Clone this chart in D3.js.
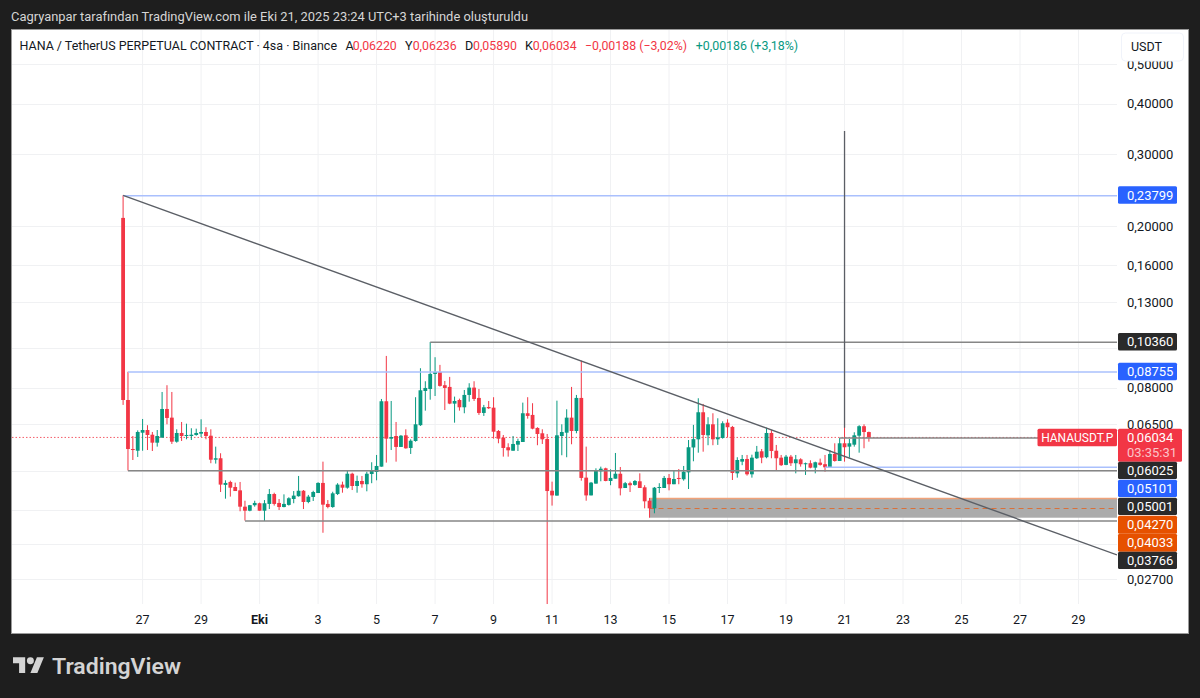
<!DOCTYPE html>
<html lang="tr">
<head>
<meta charset="utf-8">
<title>HANAUSDT.P 4sa</title>
<script src="https://cdn.jsdelivr.net/npm/d3@7/dist/d3.min.js"></script>
<style>
  html, body { margin: 0; padding: 0; background: #1e1e1e; }
  svg { display: block; }
  text { font-family: Roboto, "Noto Sans", sans-serif; }
</style>
</head>
<body>
<svg id="chart" width="1200" height="698"></svg>
<script>
// HANA / USDT perpetual, 4-hour bars
const firstBar = Date.UTC(2025, 8, 26, 8);
const barHours = 4;
const opens = [.2094,.0746,.0565,.05596,.06198,.06293,.06128,.05857,.06027,.0709,.0675,.0589,.06188,.06083,.06083,.06118,.06164,.06223,.06093,.05318,.05362,.0461,.04688,.04556,.0447,.04075,.03983,.04109,.04155,.03983,.04139,.04378,.04162,.04067,.04116,.04256,.04324,.0446,.04185,.04306,.04403,.04662,.04139,.04067,.04378,.04618,.04538,.04912,.04582,.04714,.04628,.04904,.0496,.05113,.07407,.05991,.06083,.05717,.06107,.05684,.05913,.06467,.07851,.07941,.08648,.08746,.08112,.08034,.07308,.0746,.07158,.07677,.08002,.07548,.06932,.0717,.07143,.06258,.06027,.05707,.05596,.05791,.0588,.0692,.06855,.06367,.06177,.0598,.0446,.04339,.06083,.06198,.0675,.06258,.07548,.04804,.04344,.04644,.0498,.05065,.04714,.04776,.04912,.0453,.04655,.0461,.04706,.04548,.04215,.04037,.04538,.0453,.04796,.04628,.04796,.0476,.0495,.057,.0597,.06959,.06107,.065,.0597,.06016,.0656,.06404,.04923,.0526,.0534,.04896,.05362,.05578,.05393,.06188,.05596,.0538,.05164,.05411,.05213,.0533,.05183,.05213,.05083,.05231,.05184,.05083,.05494,.0528,.05837,.05727,.05791,.06093,.0643,.0622];
const highs = [.23799,.08755,.06083,.0628,.06699,.06467,.06223,.06293,.07807,.08112,.07807,.06319,.06586,.06523,.06356,.06341,.06687,.06393,.06319,.05727,.05516,.04732,.04722,.0467,.04688,.04215,.04116,.04215,.04169,.04231,.04504,.04411,.04256,.0437,.04299,.04453,.0485,.04478,.04356,.0446,.0468,.0526,.04231,.04435,.04655,.04696,.04988,.0494,.0486,.0485,.04968,.05242,.05463,.07504,.09577,.07419,.06586,.06118,.06319,.0597,.07579,.08932,.08296,.1036,.09507,.09103,.0831,.08503,.07605,.07518,.07895,.08204,.08296,.07941,.07255,.07419,.07579,.06293,.06118,.05837,.06083,.05991,.0735,.07579,.07325,.06393,.06319,.06153,.04696,.07431,.065,.07078,.08034,.07677,.09325,.05727,.04688,.05065,.05113,.05083,.05036,.05525,.05103,.04688,.04696,.0474,.04923,.04602,.04281,.04556,.04655,.0485,.04904,.04996,.05045,.05133,.05946,.06478,.07534,.07295,.06765,.0692,.06726,.06612,.06687,.06441,.05393,.05463,.05463,.05472,.0575,.05651,.06378,.06293,.05782,.05463,.05463,.05463,.05463,.05362,.05231,.053,.0526,.05351,.05463,.05618,.05837,.06016,.3427,.0598,.06212,.06467,.065,.06236];
const lows = [.07255,.05001,.05309,.05402,.05596,.05618,.05587,.05727,.06027,.065,.05814,.05857,.05913,.0597,.05946,.06093,.06048,.0597,.05213,.05202,.04428,.04264,.04314,.04453,.0397,.03766,.0397,.04075,.03983,.03757,.04021,.041,.03998,.0406,.041,.04155,.04314,.04021,.04155,.04208,.04403,.03515,.04037,.0405,.04353,.04411,.04512,.04478,.04411,.04538,.04446,.04655,.04732,.05113,.05231,.05618,.0526,.05717,.0566,.05494,.0589,.06441,.07022,.07473,.07631,.08046,.07049,.07285,.0656,.07022,.0692,.0739,.07419,.06855,.06816,.0709,.05991,.05837,.05411,.05411,.05596,.05587,.0588,.06711,.06319,.05773,.05814,.02347,.041,.04339,.05454,.05393,.05804,.06177,.04722,.04215,.04344,.04644,.04706,.04706,.04602,.04776,.04344,.0453,.04428,.04589,.0453,.04037,.03828,.03925,.04403,.0453,.0447,.04628,.04628,.04722,.04504,.05271,.05534,.05565,.05773,.05773,.05783,.05991,.06037,.0474,.04804,.05155,.0486,.04804,.0534,.05213,.05362,.05362,.05016,.05133,.05155,.05133,.04923,.05113,.04878,.05065,.04923,.05142,.04968,.05074,.0526,.0528,.0526,.0538,.05727,.05534,.05674,.0589];
const closes = [.0746,.0565,.0562,.06223,.06293,.06118,.05857,.06083,.0709,.06738,.0589,.06188,.06083,.06118,.06128,.06188,.06223,.06083,.05318,.05362,.04618,.04662,.04538,.04453,.04075,.03983,.04109,.04162,.03983,.04155,.04378,.04139,.04067,.04139,.04274,.04339,.0446,.04185,.04314,.04428,.04662,.04122,.04067,.04395,.04618,.04538,.04912,.04582,.04714,.04628,.04912,.04996,.05133,.07407,.05991,.06048,.05717,.06093,.05674,.05923,.065,.07882,.07987,.08648,.08746,.0808,.07987,.07308,.07419,.07158,.07677,.08002,.07504,.06932,.07158,.07118,.06233,.05991,.05684,.05609,.05814,.05913,.0692,.06816,.06341,.06153,.0597,.04453,.04344,.06107,.06223,.0675,.06258,.07548,.04796,.04344,.0467,.05008,.05054,.04714,.04796,.04912,.04522,.04655,.04602,.04714,.0453,.04201,.04037,.04538,.04556,.04796,.04628,.04768,.04768,.04968,.05707,.05975,.06959,.06118,.065,.0597,.06037,.06538,.06393,.04932,.05309,.0534,.04896,.0538,.05565,.0538,.06188,.05587,.05362,.05155,.05411,.05213,.0533,.05183,.05213,.05083,.05242,.05164,.05094,.05494,.0528,.05837,.05707,.05837,.06107,.0643,.06222,.06034];

const lastPrice = 0.06034;
const gridPrices = [0.5, 0.4, 0.3, 0.2, 0.16, 0.13, 0.1, 0.08, 0.065, 0.05, 0.04, 0.033, 0.027];
const axisPrices = [0.5, 0.4, 0.3, 0.2, 0.16, 0.13, 0.08, 0.065, 0.027];
const dayTicks = [[8,27],[8,29],[9,1],[9,3],[9,5],[9,7],[9,9],[9,11],[9,13],[9,15],[9,17],[9,19],[9,21],[9,23],[9,25],[9,27],[9,29]];

// Horizontal levels: price, bar they start from, line colour
const levelPrices = [0.23799, 0.10360, 0.08755, 0.06025, 0.05101, 0.05001, 0.03766];
const levelStarts = [0, 63, 1, 147, 144, 1, 25];
const levelKinds = ["blue", "grey", "blue", "grey", "blue", "grey", "grey"];

// Order block and its midline
const zoneTop = 0.04270, zoneMid = 0.04033, zoneBottom = 0.03828, zoneStart = 108;

// Falling trend line, drawn from the top of the first bar to the right edge
const trendStartPrice = 0.23799, trendEndPrice = 0.0310;

// Price-scale tags from the top of the scale down
const tagPrices = [0.23799, 0.10360, 0.08755, 0.06034, 0.06025, 0.05101, 0.05001, 0.04270, 0.04033, 0.03766];
const tagKinds = ["blue", "dark", "blue", "last", "dark", "blue", "dark", "orange", "orange", "dark"];

const headerParts = [
  ["HANA / TetherUS PERPETUAL CONTRACT · 4sa · Binance", 19.5, "ink", 317.5],
  ["A", 345.5, "ink", 0], ["0,06220", 352.8, "down", 44],
  ["Y", 405, "ink", 0], ["0,06236", 412.7, "down", 44],
  ["D", 465, "ink", 0], ["0,05890", 473, "down", 44],
  ["K", 525, "ink", 0], ["0,06034", 532.7, "down", 44],
  ["−0,00188 (−3,02%)", 585, "down", 102],
  ["+0,00186 (+3,18%)", 695.7, "up", 102.5]
];

const UP = "#089981", DOWN = "#f23645", INK = "#131722", GRID = "#f0f1f3";
const tagColors = { blue: "#2962ff", dark: "#2a2a2a", orange: "#e65100", last: DOWN };
const lineColors = { blue: "#aac0fd", grey: "#868686" };
const plot = { left: 12, right: 1117, top: 30, bottom: 604 };
const FRAME = { x: 11.5, y: 29.5, w: 1177, h: 604 };

const barTime = i => new Date(firstBar + i * barHours * 3600e3);
const day = (m, d) => new Date(Date.UTC(2025, m, d));

const x = d3.scaleUtc().domain([day(8, 27), day(9, 29)]).range([142.6, 1078.5]);
const y = d3.scaleLog().domain([0.065, 0.027]).range([424.3, 579.3]);
const priceText = p => d3.format(".5f")(p).replace(".", ",");

const svg = d3.select("#chart");
svg.append("rect").attr("width", 1200).attr("height", 698).attr("fill", "#1e1e1e");

svg.append("text").attr("x", 11).attr("y", 21).attr("fill", "#d6d6d6")
  .attr("font-size", 12.5).attr("textLength", 517).attr("lengthAdjust", "spacingAndGlyphs")
  .text("Cagryanpar tarafından TradingView.com ile Eki 21, 2025 23:24 UTC+3 tarihinde oluşturuldu");

svg.append("rect").attr("x", FRAME.x).attr("y", FRAME.y).attr("width", FRAME.w).attr("height", FRAME.h)
  .attr("fill", "#fff").attr("stroke", "#9a9a9a");

const clip = svg.append("defs").append("clipPath").attr("id", "plot-clip");
clip.append("rect").attr("x", plot.left).attr("y", plot.top)
  .attr("width", plot.right - plot.left).attr("height", plot.bottom - plot.top + 2);

// Grid
const grid = svg.append("g").attr("stroke", GRID).attr("stroke-width", 1);
grid.selectAll("line.v").data(dayTicks).join("line").attr("class", "v")
  .attr("x1", d => x(day(d[0], d[1]))).attr("x2", d => x(day(d[0], d[1])))
  .attr("y1", plot.top).attr("y2", plot.bottom);
grid.selectAll("line.h").data(gridPrices).join("line").attr("class", "h")
  .attr("x1", plot.left).attr("x2", plot.right)
  .attr("y1", d => Math.round(y(d)) + 0.5).attr("y2", d => Math.round(y(d)) + 0.5);

const chart = svg.append("g").attr("clip-path", "url(#plot-clip)");

// Last price, dotted across the plot
chart.append("line").attr("x1", plot.left).attr("x2", 1038)
  .attr("y1", y(lastPrice)).attr("y2", y(lastPrice))
  .attr("stroke", DOWN).attr("stroke-dasharray", "1.5 2").attr("opacity", 0.8);

// Order block below the bars
const zoneLeft = x(barTime(zoneStart));
chart.append("rect").attr("x", zoneLeft).attr("width", plot.right - zoneLeft)
  .attr("y", y(zoneTop)).attr("height", y(zoneBottom) - y(zoneTop)).attr("fill", "#ababab");
chart.append("line").attr("x1", zoneLeft).attr("x2", plot.right)
  .attr("y1", y(zoneTop)).attr("y2", y(zoneTop)).attr("stroke", "#f0a27a").attr("stroke-width", 1.4);
chart.append("line").attr("x1", zoneLeft).attr("x2", plot.right)
  .attr("y1", y(zoneMid)).attr("y2", y(zoneMid)).attr("stroke", "#d9703a")
  .attr("stroke-dasharray", "5 4");

// Bars
const bars = d3.range(opens.length).map(i => ({
  i, t: barTime(i), o: opens[i], h: highs[i], l: lows[i], c: closes[i]
}));
const barGroups = chart.append("g").selectAll("g").data(bars).join("g")
  .attr("fill", d => d.c >= d.o ? UP : DOWN).attr("stroke", d => d.c >= d.o ? UP : DOWN);
barGroups.append("line")
  .attr("x1", d => x(d.t)).attr("x2", d => x(d.t))
  .attr("y1", d => y(d.h)).attr("y2", d => y(d.l)).attr("stroke-width", 1);
barGroups.append("rect").attr("stroke", "none")
  .attr("x", d => x(d.t) - 1.9).attr("width", 3.8)
  .attr("y", d => y(Math.max(d.o, d.c)))
  .attr("height", d => Math.max(1, Math.abs(y(d.o) - y(d.c))));

// Levels
chart.append("g").selectAll("line").data(levelPrices).join("line")
  .attr("x1", (d, i) => x(barTime(levelStarts[i]))).attr("x2", plot.right)
  .attr("y1", d => y(d) + 0.3).attr("y2", d => y(d) + 0.3)
  .attr("stroke", (d, i) => lineColors[levelKinds[i]]).attr("stroke-width", 1.5);

// Trend line
chart.append("line")
  .attr("x1", x(barTime(0))).attr("y1", y(trendStartPrice))
  .attr("x2", plot.right).attr("y2", y(trendEndPrice))
  .attr("stroke", "#5b5f66").attr("stroke-width", 1.4);

// Spike marker above the wick of Oct 21
chart.append("line").attr("x1", x(barTime(148))).attr("x2", x(barTime(148)))
  .attr("y1", y(highs[148])).attr("y2", y(0.0637)).attr("stroke", "#5b5f66").attr("stroke-width", 1.3);

// Time axis
const xAxis = d3.axisBottom(x).tickSize(0).tickPadding(0)
  .tickValues(dayTicks.map(d => day(d[0], d[1])))
  .tickFormat(d => d.getUTCMonth() === 9 && d.getUTCDate() === 1 ? "Eki" : String(d.getUTCDate()));
const xg = svg.append("g").attr("transform", `translate(-0.6,${plot.bottom + 15})`).call(xAxis);
xg.select(".domain").remove();
xg.selectAll("text").attr("y", 0).attr("dy", 0).attr("dominant-baseline", "central")
  .attr("font-size", 12.5).attr("fill", INK)
  .attr("font-family", "Roboto, sans-serif")
  .attr("font-weight", d => d.getUTCDate() === 1 ? 700 : 400);

// Price axis
const yAxis = d3.axisRight(y).tickSize(0).tickPadding(0)
  .tickValues(axisPrices).tickFormat(priceText);
const yg = svg.append("g").attr("transform", `translate(${plot.right + 10},-0.5)`).call(yAxis);
yg.select(".domain").remove();
yg.selectAll("text").attr("x", 0).attr("dy", 0).attr("dominant-baseline", "central")
  .attr("font-size", 13).attr("fill", INK).attr("font-family", "Roboto, sans-serif");

// Tags stacked so they never overlap
const tagLayer = svg.append("g");
let nextTop = -Infinity;
tagPrices.forEach((price, i) => {
  const kind = tagKinds[i], isLast = kind === "last";
  const h = isLast ? 33 : 18, w = isLast ? 64 : 59;
  const top = Math.max(y(price) - (isLast ? 8.7 : 9), nextTop);
  nextTop = top + h;
  tagLayer.append("rect").attr("x", plot.right + 1).attr("y", top)
    .attr("width", w).attr("height", kind === "orange" ? h : (isLast ? h : h - 0.6))
    .attr("rx", 1.5).attr("fill", tagColors[kind]);
  tagLayer.append("text").attr("x", plot.right + 10).attr("y", top + 8.7)
    .attr("dominant-baseline", "central").attr("fill", "#fff").attr("font-size", 13)
    .text(priceText(price));
  if (isLast) {
    tagLayer.append("text").attr("x", plot.right + 10).attr("y", top + 24)
      .attr("dominant-baseline", "central").attr("fill", "#fbc4c9").attr("font-size", 13)
      .text("03:35:31");
    tagLayer.append("rect").attr("x", 1037.5).attr("y", top).attr("width", 79.5).attr("height", 17.5)
      .attr("rx", 1.5).attr("fill", DOWN);
    tagLayer.append("text").attr("x", 1077.2).attr("y", top + 8.8).attr("text-anchor", "middle")
      .attr("dominant-baseline", "central").attr("fill", "#fff").attr("font-size", 12)
      .text("HANAUSDT.P");
  }
});

// Currency button sits over the top of the scale
svg.append("rect").attr("x", 1121.5).attr("y", 33).attr("width", 62).attr("height", 28)
  .attr("rx", 4).attr("fill", "#fff").attr("stroke", "#f0f3fa");
svg.append("text").attr("x", 1131).attr("y", 46.5).attr("dominant-baseline", "central")
  .attr("font-size", 12.5).attr("fill", INK).text("USDT");

// Legend row
const headerColor = { ink: INK, down: DOWN, up: UP };
svg.append("g").selectAll("text").data(headerParts).join("text")
  .attr("x", d => d[1]).attr("y", 45.5).attr("dominant-baseline", "central")
  .attr("font-size", 12.5).attr("fill", d => headerColor[d[2]])
  .attr("textLength", d => d[3] || null).attr("lengthAdjust", "spacingAndGlyphs")
  .text(d => d[0]);

// Footer wordmark
const mark = svg.append("g").attr("fill", "#d4d4d4");
mark.append("g").attr("transform", "translate(13,653.8) scale(0.87)")
  .call(g => {
    g.append("path").attr("d", "M14 22H7V11H0V4h14v18zM28 22h-8l7.5-18h8L28 22z");
    g.append("circle").attr("cx", 20).attr("cy", 8).attr("r", 4);
  });
mark.append("text").attr("x", 52).attr("y", 666).attr("dominant-baseline", "central")
  .attr("font-family", "Inter, sans-serif").attr("font-weight", 600).attr("font-size", 22)
  .attr("textLength", 129).attr("lengthAdjust", "spacingAndGlyphs").text("TradingView");
</script>
</body>
</html>
